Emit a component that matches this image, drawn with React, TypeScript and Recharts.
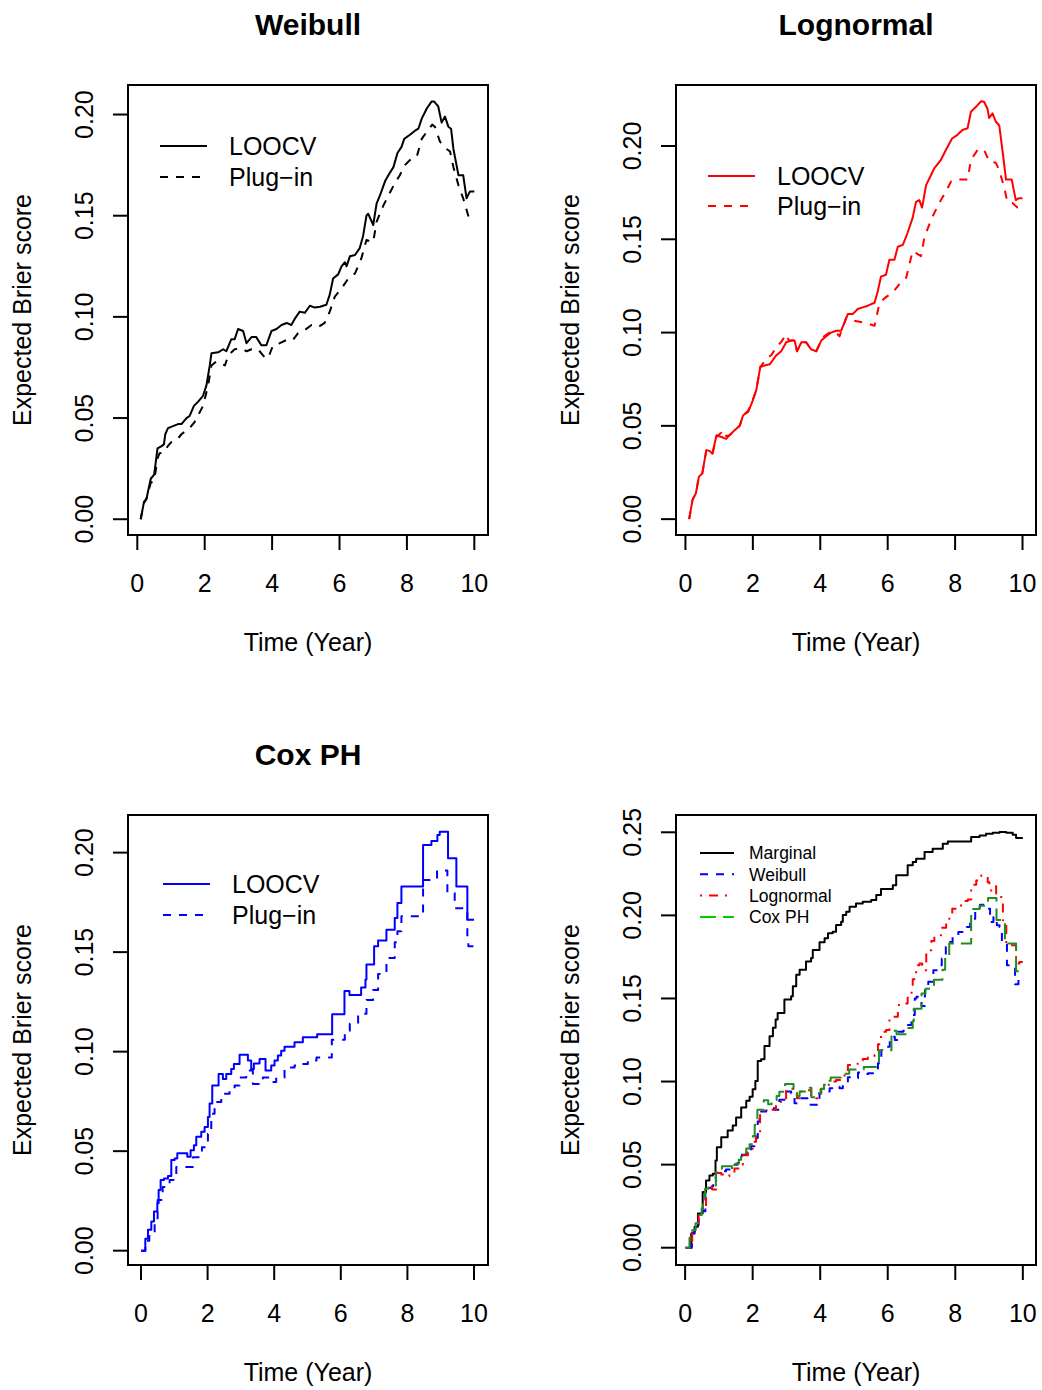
import { LineChart, Line, XAxis, YAxis, ReferenceArea, Legend } from 'recharts';

type Pt = [number, number];

// expected Brier score vs time (years)
const weibullLoocv: Pt[] = [
  [0.1, 0], [0.2, 0.0087], [0.27, 0.01], [0.4, 0.02], [0.5, 0.022], [0.6, 0.035], [0.71, 0.036], [0.79, 0.037],
  [0.83, 0.042], [0.91, 0.045], [1.06, 0.046], [1.21, 0.047], [1.31, 0.047], [1.46, 0.05], [1.55, 0.051],
  [1.68, 0.056], [1.8, 0.058], [1.95, 0.061], [2.05, 0.066], [2.15, 0.076], [2.2, 0.082], [2.4, 0.0825],
  [2.55, 0.084], [2.64, 0.083], [2.79, 0.089], [2.89, 0.089], [2.99, 0.094], [3.14, 0.093], [3.24, 0.087],
  [3.39, 0.09], [3.53, 0.09], [3.68, 0.086], [3.83, 0.086], [3.98, 0.093], [4.13, 0.094], [4.28, 0.096],
  [4.43, 0.097], [4.57, 0.096], [4.67, 0.099], [4.82, 0.1026], [4.97, 0.102], [5.12, 0.1055], [5.27, 0.1046],
  [5.42, 0.105], [5.61, 0.106], [5.71, 0.111], [5.81, 0.119], [5.96, 0.121], [6.06, 0.125], [6.16, 0.127],
  [6.21, 0.125], [6.31, 0.13], [6.46, 0.1306], [6.6, 0.134], [6.7, 0.14], [6.8, 0.15], [6.85, 0.151],
  [7.0, 0.1454], [7.1, 0.156], [7.2, 0.16], [7.35, 0.167], [7.45, 0.17], [7.6, 0.174], [7.72, 0.181],
  [7.84, 0.184], [7.92, 0.188], [8.09, 0.19], [8.24, 0.192], [8.34, 0.193], [8.44, 0.198], [8.59, 0.203],
  [8.73, 0.2064], [8.81, 0.2064], [8.93, 0.204], [9.03, 0.196], [9.13, 0.199], [9.23, 0.194], [9.31, 0.193],
  [9.38, 0.183], [9.53, 0.17], [9.67, 0.17], [9.77, 0.1586], [9.87, 0.162], [10.0, 0.162],
];

const weibullPlugin: Pt[] = [
  [0.1, 0], [0.2, 0.008], [0.27, 0.01], [0.4, 0.018], [0.5, 0.019], [0.6, 0.03], [0.66, 0.0326], [0.79, 0.033],
  [0.9, 0.036], [1.0, 0.038], [1.16, 0.039], [1.31, 0.042], [1.55, 0.045], [1.7, 0.048], [1.95, 0.056],
  [2.1, 0.066], [2.2, 0.076], [2.35, 0.078], [2.6, 0.076], [2.7, 0.081], [2.89, 0.084], [3.09, 0.0845],
  [3.24, 0.083], [3.39, 0.084], [3.58, 0.084], [3.78, 0.08], [3.88, 0.0795], [4.03, 0.086], [4.23, 0.087],
  [4.48, 0.089], [4.62, 0.0886], [4.77, 0.092], [4.97, 0.0935], [5.17, 0.096], [5.37, 0.095], [5.56, 0.097],
  [5.71, 0.1026], [5.86, 0.11], [6.06, 0.114], [6.26, 0.119], [6.46, 0.1215], [6.65, 0.129], [6.8, 0.138],
  [7.0, 0.137], [7.1, 0.147], [7.3, 0.155], [7.45, 0.16], [7.64, 0.166], [7.79, 0.17], [7.94, 0.175],
  [8.09, 0.1775], [8.29, 0.179], [8.44, 0.188], [8.59, 0.1915], [8.75, 0.195], [8.83, 0.194], [8.98, 0.1866],
  [9.18, 0.183], [9.28, 0.1817], [9.38, 0.174], [9.53, 0.165], [9.67, 0.1586], [9.82, 0.15], [9.92, 0.152],
  [10.0, 0.152],
];

const lognormalLoocv: Pt[] = [
  [0.11, 0], [0.21, 0.0103], [0.31, 0.0139], [0.4, 0.0228], [0.5, 0.0245], [0.62, 0.037], [0.72, 0.0366],
  [0.8, 0.035], [0.92, 0.045], [1.07, 0.044], [1.21, 0.043], [1.31, 0.045], [1.46, 0.0477], [1.61, 0.05],
  [1.71, 0.0557], [1.86, 0.0575], [2.0, 0.0637], [2.1, 0.069], [2.22, 0.0815], [2.35, 0.0824], [2.5, 0.083],
  [2.69, 0.0877], [2.84, 0.09], [2.99, 0.0948], [3.14, 0.0957], [3.24, 0.0957], [3.31, 0.09], [3.44, 0.0948],
  [3.58, 0.0948], [3.73, 0.091], [3.88, 0.09], [4.03, 0.0957], [4.18, 0.098], [4.32, 0.1], [4.47, 0.101],
  [4.62, 0.101], [4.72, 0.1055], [4.82, 0.11], [4.97, 0.11], [5.11, 0.1126], [5.26, 0.1135], [5.41, 0.1144],
  [5.61, 0.116], [5.71, 0.1224], [5.8, 0.13], [5.95, 0.131], [6.05, 0.139], [6.2, 0.139], [6.3, 0.146],
  [6.45, 0.147], [6.59, 0.1535], [6.74, 0.1615], [6.84, 0.17], [6.94, 0.171], [7.02, 0.167], [7.14, 0.179],
  [7.29, 0.1846], [7.38, 0.188], [7.58, 0.1926], [7.73, 0.198], [7.91, 0.204], [8.07, 0.206], [8.22, 0.2086],
  [8.37, 0.2095], [8.47, 0.2184], [8.62, 0.221], [8.77, 0.224], [8.86, 0.2237], [8.96, 0.22], [9.01, 0.215],
  [9.11, 0.2175], [9.21, 0.213], [9.31, 0.211], [9.41, 0.197], [9.51, 0.182], [9.68, 0.182], [9.8, 0.171],
  [9.9, 0.172], [10.0, 0.172],
];

const lognormalPlugin: Pt[] = [
  [0.11, 0], [0.21, 0.0103], [0.31, 0.0139], [0.4, 0.0228], [0.5, 0.0245], [0.62, 0.037], [0.72, 0.0366],
  [0.8, 0.035], [0.92, 0.044], [1.07, 0.0465], [1.12, 0.0477], [1.21, 0.0445], [1.31, 0.045], [1.46, 0.0477],
  [1.61, 0.05], [1.71, 0.0557], [1.86, 0.058], [2.0, 0.064], [2.1, 0.069], [2.22, 0.0815], [2.4, 0.086],
  [2.55, 0.088], [2.69, 0.092], [2.84, 0.095], [2.99, 0.099], [3.07, 0.0957], [3.24, 0.0957], [3.31, 0.09],
  [3.44, 0.0948], [3.58, 0.0948], [3.73, 0.091], [3.88, 0.09], [4.08, 0.0975], [4.27, 0.1], [4.47, 0.1],
  [4.57, 0.098], [4.77, 0.108], [4.97, 0.1064], [5.26, 0.1055], [5.61, 0.1037], [5.76, 0.116], [5.95, 0.119],
  [6.15, 0.1215], [6.35, 0.126], [6.55, 0.1295], [6.74, 0.1437], [6.99, 0.141], [7.09, 0.151], [7.29, 0.1606],
  [7.53, 0.1695], [7.73, 0.1757], [7.88, 0.181], [8.03, 0.182], [8.37, 0.182], [8.47, 0.1926], [8.67, 0.198],
  [8.86, 0.198], [9.01, 0.1917], [9.21, 0.191], [9.31, 0.187], [9.46, 0.1775], [9.55, 0.17], [9.7, 0.1695],
  [9.85, 0.167], [10.0, 0.167],
];

const coxLoocv: Pt[] = [
  [0, 0], [0.13, 0.006], [0.21, 0.0105], [0.31, 0.0147], [0.39, 0.0197], [0.49, 0.0238], [0.53, 0.0305],
  [0.59, 0.0355], [0.69, 0.0363], [0.81, 0.0375], [0.91, 0.0455], [1.01, 0.0463], [1.09, 0.049], [1.39, 0.0472],
  [1.49, 0.0505], [1.59, 0.053], [1.66, 0.0572], [1.81, 0.0597], [1.91, 0.0622], [2.01, 0.0672], [2.06, 0.074],
  [2.14, 0.083], [2.33, 0.0888], [2.46, 0.0863], [2.56, 0.0888], [2.71, 0.0913], [2.79, 0.0938], [2.96, 0.0985],
  [3.21, 0.0955], [3.31, 0.0913], [3.39, 0.094], [3.56, 0.0963], [3.74, 0.0905], [3.91, 0.093], [4.01, 0.0955],
  [4.11, 0.098], [4.21, 0.1005], [4.31, 0.1025], [4.61, 0.1047], [4.86, 0.1072], [5.29, 0.1088], [5.74, 0.1188],
  [6.11, 0.1305], [6.26, 0.1285], [6.61, 0.1322], [6.74, 0.1363], [6.77, 0.1438], [7.0, 0.153], [7.12, 0.1558],
  [7.37, 0.1613], [7.62, 0.1672], [7.7, 0.1747], [7.82, 0.183], [8.47, 0.2038], [8.72, 0.2058], [8.9, 0.2088],
  [8.97, 0.2105], [9.22, 0.1972], [9.47, 0.183], [9.8, 0.1663], [10.0, 0.1663],
];

const coxPlugin: Pt[] = [
  [0, 0], [0.13, 0.005], [0.25, 0.009], [0.41, 0.0163], [0.5, 0.0255], [0.65, 0.032], [0.86, 0.0355],
  [1.06, 0.042], [1.41, 0.042], [1.56, 0.047], [1.83, 0.052], [2.01, 0.0588], [2.11, 0.0688], [2.21, 0.0747],
  [2.41, 0.0788], [2.66, 0.0813], [2.81, 0.083], [2.96, 0.087], [3.16, 0.0905], [3.36, 0.0838], [3.66, 0.087],
  [3.86, 0.0847], [4.06, 0.087], [4.31, 0.092], [4.61, 0.093], [4.81, 0.0938], [5.01, 0.0955], [5.27, 0.097],
  [5.73, 0.106], [6.12, 0.1105], [6.27, 0.114], [6.52, 0.119], [6.77, 0.126], [6.97, 0.131], [7.12, 0.139],
  [7.37, 0.147], [7.62, 0.155], [7.7, 0.1605], [7.82, 0.168], [8.47, 0.1863], [8.89, 0.191], [9.2, 0.1797],
  [9.42, 0.172], [9.8, 0.158], [9.83, 0.153], [10.0, 0.152],
];

const marginal: Pt[] = [
  [0.01, 0], [0.18, 0.0086], [0.28, 0.0126], [0.38, 0.0206], [0.52, 0.0335], [0.62, 0.0405], [0.72, 0.0435],
  [0.82, 0.0445], [0.9, 0.0525], [0.94, 0.0605], [1.07, 0.0665], [1.26, 0.0705], [1.41, 0.0735], [1.51, 0.0784],
  [1.66, 0.0844], [1.81, 0.0884], [1.91, 0.0908], [2.0, 0.0954], [2.08, 0.1004], [2.15, 0.1124], [2.25, 0.1134],
  [2.35, 0.1214], [2.5, 0.1273], [2.6, 0.1323], [2.68, 0.1373], [2.74, 0.1413], [2.94, 0.1493], [3.14, 0.1513],
  [3.19, 0.1573], [3.29, 0.1643], [3.39, 0.1673], [3.58, 0.1723], [3.73, 0.1743], [3.78, 0.1792], [3.98, 0.1838],
  [4.13, 0.1862], [4.23, 0.1892], [4.37, 0.1902], [4.47, 0.1942], [4.62, 0.1962], [4.67, 0.2002], [4.77, 0.2022],
  [4.87, 0.2052], [5.06, 0.2072], [5.26, 0.2082], [5.51, 0.2092], [5.66, 0.2122], [5.8, 0.2158], [6.15, 0.2182],
  [6.25, 0.2242], [6.59, 0.2301], [6.74, 0.2321], [6.84, 0.2341], [7.09, 0.2381], [7.33, 0.2401], [7.63, 0.2431],
  [7.78, 0.2445], [8.47, 0.2471], [8.72, 0.2481], [8.91, 0.2491], [9.11, 0.2497], [9.31, 0.2501], [9.51, 0.2497],
  [9.7, 0.2485], [9.8, 0.2465], [10.0, 0.2465],
];

const xTicks = [0, 2, 4, 6, 8, 10];
const yTicks = [0, 0.05, 0.1, 0.15, 0.2];
const yTicksAll = [0, 0.05, 0.1, 0.15, 0.2, 0.25];

const FONT = '"Liberation Sans", Arial, Helvetica, sans-serif';
const BOX_W = 360;
const BOX_H = 450;
const PAD_L = 128; // chart-local position of the box
const PAD_T = 85;

const DASHED = '8 8';
const DOTDASH = '2 7 9 7';
const LONGDASH = '16 7';

type Series = {
  name: string;
  pts: Pt[];
  color: string;
  dash?: string;
  step?: boolean;
  legendColor?: string;
};

type PanelSpec = {
  left: number;
  top: number;
  title?: string;
  xDomain: [number, number];
  yDomain: [number, number];
  yTicks: number[];
  series: Series[];
  leg: { x: number; y: number; len: number; textX: number; rowH: number; size: number };
};

const toRows = (pts: Pt[]) => pts.map(([t, v]) => ({ t, v }));

const XTick = (props: any) => (
  <text x={props.x} y={props.y} textAnchor="middle" fontSize={25} fontFamily={FONT} fill="#000">
    {props.payload.value}
  </text>
);

const YTick = (props: any) => (
  <text
    x={props.x}
    y={props.y}
    transform={`rotate(-90 ${props.x} ${props.y})`}
    textAnchor="middle"
    fontSize={25}
    fontFamily={FONT}
    fill="#000"
  >
    {Number(props.payload.value).toFixed(2)}
  </text>
);

const LegendBox = ({ spec }: { spec: PanelSpec }) => {
  const { len, textX, rowH, size } = spec.leg;
  return (
    <svg width={260} height={spec.series.length * rowH + 20} style={{ display: 'block', overflow: 'visible' }}>
      {spec.series.map((s, i) => {
        const y = 15 + i * rowH;
        return (
          <g key={s.name}>
            <line x1={10} x2={10 + len} y1={y} y2={y} stroke={s.legendColor ?? s.color} strokeWidth={2}
              strokeDasharray={s.dash} />
            <text x={10 + textX} y={y + size * 0.36} fontSize={size} fontFamily={FONT} fill="#000">
              {s.name}
            </text>
          </g>
        );
      })}
    </svg>
  );
};

const Panel = ({ spec }: { spec: PanelSpec }) => (
  <div style={{ position: 'absolute', left: spec.left - PAD_L, top: spec.top - PAD_T }}>
    <LineChart
      width={PAD_L + BOX_W + 20}
      height={PAD_T + BOX_H + 130}
      margin={{ top: PAD_T, right: 20, left: PAD_L - 60, bottom: 70 }}
    >
      <XAxis
        type="number"
        dataKey="t"
        domain={spec.xDomain}
        ticks={xTicks}
        interval={0}
        allowDataOverflow
        axisLine={false}
        tickLine={{ stroke: '#000', strokeWidth: 2 }}
        tickSize={15}
        tickMargin={42}
        height={60}
        tick={(p: any) => <XTick {...p} />}
      />
      <YAxis
        type="number"
        domain={spec.yDomain}
        ticks={spec.yTicks}
        interval={0}
        allowDataOverflow
        axisLine={false}
        tickLine={{ stroke: '#000', strokeWidth: 2 }}
        tickSize={15}
        tickMargin={20}
        width={60}
        tick={(p: any) => <YTick {...p} />}
      />
      <ReferenceArea
        x1={spec.xDomain[0]}
        x2={spec.xDomain[1]}
        y1={spec.yDomain[0]}
        y2={spec.yDomain[1]}
        fill="none"
        fillOpacity={0}
        stroke="#000"
        strokeWidth={2}
        ifOverflow="visible"
      />
      {spec.series.map((s) => (
        <Line
          key={s.name}
          data={toRows(s.pts)}
          dataKey="v"
          type={s.step ? 'stepAfter' : 'linear'}
          stroke={s.color}
          strokeWidth={2}
          strokeDasharray={s.dash}
          strokeLinejoin="round"
          dot={false}
          activeDot={false}
          isAnimationActive={false}
        />
      ))}
      <Legend
        layout="vertical"
        align="center"
        verticalAlign="middle"
        wrapperStyle={{ left: PAD_L + spec.leg.x - 10, top: PAD_T + spec.leg.y - 15, width: 260 }}
        content={() => <LegendBox spec={spec} />}
      />
    </LineChart>
  </div>
);

const panels: PanelSpec[] = [
  {
    left: 128, top: 85, title: 'Weibull',
    xDomain: [-0.276, 10.406], yDomain: [-0.0078, 0.2146], yTicks,
    series: [
      { name: 'LOOCV', pts: weibullLoocv, color: '#000' },
      { name: 'Plug\u2212in', pts: weibullPlugin, color: '#000', dash: DASHED },
    ],
    leg: { x: 32, y: 61, len: 47, textX: 69, rowH: 31, size: 25 },
  },
  {
    left: 676, top: 85, title: 'Lognormal',
    xDomain: [-0.28, 10.4], yDomain: [-0.0085, 0.2327], yTicks,
    series: [
      { name: 'LOOCV', pts: lognormalLoocv, color: '#ff0000' },
      { name: 'Plug\u2212in', pts: lognormalPlugin, color: '#ff0000', dash: DASHED },
    ],
    leg: { x: 32, y: 91, len: 47, textX: 69, rowH: 30, size: 25 },
  },
  {
    left: 128, top: 815, title: 'Cox PH',
    xDomain: [-0.39, 10.42], yDomain: [-0.0072, 0.2189], yTicks,
    series: [
      { name: 'LOOCV', pts: coxLoocv, color: '#0000ff', step: true },
      { name: 'Plug\u2212in', pts: coxPlugin, color: '#0000ff', dash: DASHED, step: true },
    ],
    leg: { x: 35, y: 69, len: 47, textX: 69, rowH: 31, size: 25 },
  },
  {
    left: 676, top: 815,
    xDomain: [-0.27, 10.39], yDomain: [-0.0104, 0.2604], yTicks: yTicksAll,
    series: [
      { name: 'Marginal', pts: marginal, color: '#000', step: true },
      { name: 'Weibull', pts: weibullLoocv, color: '#0000ff', dash: DASHED, step: true },
      { name: 'Lognormal', pts: lognormalLoocv, color: '#ff0000', dash: DOTDASH, step: true },
      { name: 'Cox PH', pts: coxLoocv, color: '#228b22', legendColor: '#00cd00', dash: LONGDASH, step: true },
    ],
    leg: { x: 24, y: 38, len: 34, textX: 49, rowH: 21.3, size: 17.5 },
  },
];

export default function App() {
  return (
    <div style={{ position: 'absolute', left: 0, top: 0, width: 1042, height: 1390, background: '#fff', fontFamily: FONT }}>
      <svg width={1042} height={1390} style={{ position: 'absolute', left: 0, top: 0 }}>
        {panels.map((p) => {
          const cx = p.left + BOX_W / 2;
          const cy = p.top + BOX_H / 2;
          const lx = p.left - 97;
          return (
            <g key={`${p.left}-${p.top}`} fontFamily={FONT} fill="#000">
              {p.title && (
                <text x={cx} y={p.top - 50} textAnchor="middle" fontSize={30} fontWeight="bold">{p.title}</text>
              )}
              <text x={cx} y={p.top + BOX_H + 116} textAnchor="middle" fontSize={25}>Time (Year)</text>
              <text x={lx} y={cy} transform={`rotate(-90 ${lx} ${cy})`} textAnchor="middle" fontSize={25}>
                Expected Brier score
              </text>
            </g>
          );
        })}
      </svg>
      {panels.map((p) => (
        <Panel key={`${p.left}-${p.top}`} spec={p} />
      ))}
    </div>
  );
}
